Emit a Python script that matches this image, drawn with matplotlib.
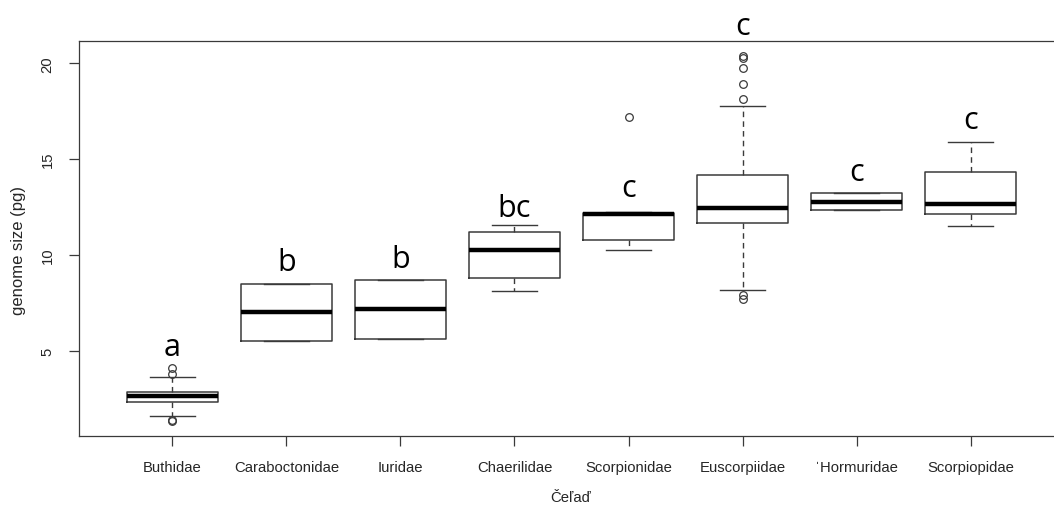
import numpy as np
import matplotlib
matplotlib.use("Agg")
import matplotlib.pyplot as plt

plt.rcParams["font.family"] = ["Liberation Sans", "DejaVu Sans"]

families = ["Buthidae", "Caraboctonidae", "Iuridae", "Chaerilidae",
            "Scorpionidae", "Euscorpiidae", "'Hormuridae", "Scorpiopidae"]
tick_labels = ["Buthidae", "Caraboctonidae", "Iuridae", "Chaerilidae",
               "Scorpionidae", "Euscorpiidae", "\u02c8Hormuridae", "Scorpiopidae"]

# five-number summaries (pg)
whislo = [1.58, 5.50, 5.60, 8.11, 10.26, 8.17, 12.32, 11.51]
q1     = [2.33, 5.50, 5.60, 8.78, 10.78, 11.67, 12.32, 12.11]
med    = [2.62, 7.02, 7.17, 10.26, 12.12, 12.47, 12.77, 12.68]
q3     = [2.85, 8.46, 8.67, 11.22, 12.20, 14.16, 13.22, 14.30]
whishi = [3.62, 8.46, 8.67, 11.56, 12.24, 17.75, 13.22, 15.90]
fliers = [[4.11, 3.80, 1.38, 1.31], [], [], [], [17.21],
          [20.40, 20.29, 19.75, 18.90, 18.12, 7.89, 7.72], [], []]

# Tukey group letters and their heights
letters = ["a", "b", "b", "bc", "c", "c", "c", "c"]
letter_y = [4.77, 9.21, 9.36, 12.03, 13.05, 21.53, 13.92, 16.62]

stats = []
for i in range(len(families)):
    stats.append(dict(label=families[i], whislo=whislo[i], q1=q1[i], med=med[i],
                      q3=q3[i], whishi=whishi[i], fliers=fliers[i]))

fig = plt.figure(figsize=(10.54, 5.10), dpi=100)
W, H = 1054, 510
ax = fig.add_axes([79 / W, 1 - 437 / H, 985 / W, 395 / H])

line = "#3a3a3a"
pos = np.arange(1, len(families) + 1)
ax.bxp(stats, positions=pos, widths=0.8, capwidths=0.4, patch_artist=False,
       boxprops=dict(color=line, linewidth=1.1),
       whiskerprops=dict(color=line, linewidth=1.0, linestyle=(0, (4, 3))),
       capprops=dict(color=line, linewidth=1.0),
       medianprops=dict(color="black", linewidth=3.2, solid_capstyle="butt"),
       flierprops=dict(marker="o", markersize=5.5, markerfacecolor="none",
                       markeredgecolor=line, markeredgewidth=0.9))

for i, s in enumerate(letters):
    ax.text(pos[i], letter_y[i], s, ha="center", va="baseline", fontsize=22,
            family="Open Sans", color="black", clip_on=False)

# R-style axis limits: 4% padding around the data
allv = np.concatenate([whislo, whishi] + [np.array(f) for f in fliers if f])
lo, hi = allv.min(), allv.max()
pad = 0.04 * (hi - lo)
ax.set_ylim(lo - pad, hi + pad)
ax.set_xlim(0.5 - 0.32, len(families) + 0.5 + 0.32)

ax.set_yticks([5, 10, 15, 20])
ax.set_yticklabels(["5", "10", "15", "20"], rotation=90, va="center")
ax.set_xticks(pos)
ax.set_xticklabels(tick_labels)
ax.tick_params(axis="both", length=7.5, width=0.9, color=line,
               labelsize=10.7, labelcolor="#262626")
ax.tick_params(axis="x", pad=10)
ax.tick_params(axis="y", pad=10)
for sp in ax.spines.values():
    sp.set_color(line)
    sp.set_linewidth(0.9)

fig.text(19 / W, 1 - ((64 + 437) / 2) / H, "genome size (pg)",
         rotation=90, ha="center", va="center", fontsize=12, color="#262626")
fig.text(571 / W, 1 - 498 / H, "\u010ce\u013ea\u010f", ha="center", va="center",
         fontsize=10.7, color="#262626")

fig.savefig("out.png", dpi=100)
